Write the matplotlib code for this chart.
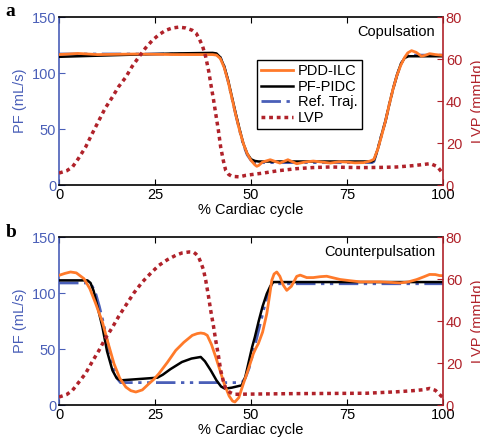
import matplotlib.pyplot as plt
import numpy as np

plt.rcParams['font.family'] = ['Liberation Sans', 'DejaVu Sans']
plt.rcParams['font.size'] = 10

BLUE = '#4a5fb8'
RED = '#b0222a'
ORANGE = '#ff7a2a'

# ---- panel a : copulsation ----
a_ref_x = [0, 41, 42, 43, 44, 45, 46, 47, 48, 49, 50, 51, 81.5, 82, 83, 84, 85, 86, 87, 88, 89, 90, 91, 100]
a_ref_y = [117, 117, 114, 106, 93, 78, 63, 49, 36, 27, 22, 20, 20, 21, 32, 45, 57, 72, 86, 98, 108, 114, 116, 116]

a_pid_x = [0, 10, 20, 30, 40, 41, 42, 43, 44, 45, 46, 47, 48, 49, 50, 51, 52, 81.5, 82, 83, 84, 85, 86, 87, 88, 89, 90, 91, 92, 100]
a_pid_y = [114.5, 115.5, 116.5, 117.5, 118, 117.5, 114, 106, 94, 79, 64, 50, 37, 28, 23, 21.5, 21, 21, 22, 32, 45, 57, 72, 86, 98, 108, 113.5, 115, 115, 115]

a_ilc_x = [0, 5, 10, 20, 30, 40, 41, 42, 43, 44, 45, 46, 47, 48, 49, 50, 51, 51.5, 52, 53, 55, 57.5, 59.6, 61.9, 64, 66.2, 68.5, 70.6, 73, 75, 77,
           79.3, 81, 82, 83, 84, 85, 86, 87, 88, 89, 90, 90.8, 91.8, 93, 94.4, 95.5, 96.5, 98, 100]
a_ilc_y = [116.5, 117.5, 116.5, 117, 116.5, 116.5, 116, 113, 105, 93, 78, 63, 49, 37, 28, 22, 18, 16.7, 17.5, 20.5, 22.6, 19.6, 22.6, 19, 20.5, 21.4, 20.5, 19.6,
           20.8, 20.5, 19.8, 20, 21.4, 23, 32, 44, 57, 72, 86, 98, 107, 114, 118, 120, 118.5, 115, 116, 117.3, 116.5, 115.8]

a_lvp_x = [0, 2, 3.5, 5, 6.9, 8.5, 10.4, 12, 13.9, 15.5, 17.4, 19, 20.8, 22.5, 24.3, 26, 27.8, 29.5, 31.2, 33, 34.7, 35.7, 36.5, 37.4, 38.2,
           39, 39.5, 40.2, 40.8, 41.5, 42.1, 42.8, 43.4, 44.2, 45.1, 47, 48.6, 53.2, 57, 61.9, 66, 70.6, 75, 79.3, 84, 88, 92, 95, 96.7, 98.5, 100]
a_lvp_y = [5.7, 6.8, 8.6, 12.5, 18, 24, 30.8, 36.5, 41.9, 46.8, 51.4, 56.4, 61, 65.2, 68.9, 71.6, 73.7, 74.8, 75.2, 74.8, 73.7, 72.3, 69.7, 66, 61,
           54, 48.3, 41, 34, 26, 18, 11.5, 7, 5, 4.1, 3.9, 4.6, 5.7, 6.8, 7.8, 8.3, 8.6, 8.4, 8.3, 8.4, 8.6, 9.2, 9.8, 10.2, 8.8, 5.4]

# ---- panel b : counterpulsation ----
b_ref_x = [0, 7.8, 8.5, 9.5, 10.5, 11.5, 12.5, 13.5, 14.5, 15.3, 16, 47.6, 48.5, 49.5, 50.5, 51.5, 52.5, 53.5, 54.5, 55.4, 100]
b_ref_y = [109, 109, 107, 100, 88, 74, 58, 43, 31, 23, 20, 20, 24, 33, 46, 60, 74, 88, 100, 108.3, 108.3]

b_pid_x = [0, 7.4, 8.2, 9, 10, 11.3, 12.5, 13.9, 15, 16, 25.6, 27, 29, 32, 34.5, 36.9, 38, 39.5, 41, 42.2, 43.2, 45, 47.6, 48.5, 49.5,
           50.3, 51, 52, 53, 54.1, 55, 55.8, 100]
b_pid_y = [111.3, 111.3, 109, 102, 88, 69.6, 48, 31, 24, 22, 24.4, 27, 32, 38.4, 41.5, 42.9, 39, 31, 22, 16.5, 14.6, 15.5, 17.6, 25, 40,
           52, 60.7, 75, 88, 99.4, 106, 109.8, 109.8]

b_ilc_x = [0, 1.5, 3, 4.5, 6.5, 8, 9.5, 11.3, 12.8, 14.3, 15.8, 17.4, 18.7, 20, 21.7, 23.4, 24.7, 26, 28.2, 30.4, 32.5, 34.7, 36, 36.9, 37.8,
           38.6, 39.7, 40.8, 42, 43, 44.3, 45.2, 45.8, 46.8, 48, 49.3, 50.6, 51.3, 51.9, 53, 54.1, 54.8, 55.4, 56, 56.7, 57.5, 58.4, 59.3,
           60.5, 61.9, 62.8, 64.5, 66.2, 68, 69.7, 71.5, 73.2, 75.8, 78.4, 81, 83.6, 86, 88.8, 91, 93.1, 95, 96.5, 98, 99.1, 100]
b_ilc_y = [115.8, 117.5, 118.8, 118, 112.8, 104, 91, 74, 55, 37, 24, 16, 12.8, 11.6, 13.5, 19, 23, 28, 38, 48.8, 56, 62.2, 63.8, 64.3, 63.8,
           62.2, 54, 42.9, 30, 19, 8, 3.5, 2.7, 6.5, 19, 32, 45.8, 51, 54.8, 65, 81.5, 97, 111.3, 117, 118.8, 115, 107, 102.4,
           106, 114.9, 116, 113.8, 113.8, 114.6, 115, 113.5, 112.1, 111, 110, 110, 110, 109.6, 109, 110, 112, 114.5, 116.6, 116.5, 115.6, 115.5]

b_lvp_x = [0, 2, 3.5, 5, 6.9, 8.6, 10.4, 12, 13.9, 15.6, 17.4, 19.5, 21.7, 24, 26, 28.2, 30.4, 32, 33.9, 35, 35.6, 36.3, 36.9, 37.6, 38.2,
           38.9, 39.5, 40.2, 40.8, 41.5, 42.1, 42.8, 43.4, 44.5, 45.6, 50, 60, 70, 80, 88, 92, 95, 96.5, 98, 99.5, 100]
b_lvp_y = [3.8, 5, 7, 10.5, 15, 20.5, 26, 31.5, 37, 42.4, 47.5, 53.4, 58.6, 63, 66.5, 69.2, 71.3, 72.4, 72.9, 72.8, 72, 70.6, 68, 64.5, 59.4,
           52, 45, 37.8, 30.8, 23.6, 16.5, 11.3, 7.8, 6, 5.1, 5.2, 5.4, 5.5, 5.6, 6.3, 6.8, 7.3, 7.9, 7, 4.3, 3.5]

panels = [
    ('a', 'Copulsation', a_ilc_x, a_ilc_y, a_pid_x, a_pid_y, a_ref_x, a_ref_y, a_lvp_x, a_lvp_y, 0.5814, 0.993),
    ('b', 'Counterpulsation', b_ilc_x, b_ilc_y, b_pid_x, b_pid_y, b_ref_x, b_ref_y, b_lvp_x, b_lvp_y, 0.0837, 0.493),
]

fig = plt.figure(figsize=(4.8, 4.42), dpi=100)

for i, (lab, name, ix, iy, px, py, rx, ry, lx, ly, bot, laby) in enumerate(panels):
    ax = fig.add_axes([0.123, bot, 0.8, 0.380])
    ax2 = ax.twinx()

    h_ref, = ax.plot(rx, ry, color=BLUE, lw=2.0, dashes=(7, 2, 1.2, 2, 1.2, 2), label='Ref. Traj.', zorder=2)
    h_pid, = ax.plot(px, py, color='black', lw=1.8, label='PF-PIDC', zorder=3)
    h_ilc, = ax.plot(ix, iy, color=ORANGE, lw=2.0, label='PDD-ILC', zorder=4)
    h_lvp, = ax2.plot(lx, ly, color=RED, lw=2.5, dashes=(1.1, 1.1), label='LVP')

    ax.set_xlim(0, 100)
    ax.set_ylim(0, 150)
    ax2.set_ylim(0, 80)
    ax.set_xticks([0, 25, 50, 75, 100])
    ax.set_yticks([0, 50, 100, 150])
    ax2.set_yticks([0, 20, 40, 60, 80])

    ax.tick_params(axis='x', direction='in', top=True, length=4, pad=2, colors='black', labelsize=10.5)
    ax.tick_params(axis='y', direction='in', length=4, pad=2, colors=BLUE, labelsize=10.5)
    ax2.tick_params(axis='y', direction='in', length=4, pad=2, colors=RED, labelsize=10.5)

    for s in ['top', 'bottom']:
        ax.spines[s].set_color('black')
        ax2.spines[s].set_visible(False)
    ax.spines['left'].set_color(BLUE)
    ax2.spines['left'].set_visible(False)
    ax.spines['right'].set_visible(False)
    ax2.spines['right'].set_color(RED)
    for s in ax.spines.values():
        s.set_linewidth(1.2)
    ax2.spines['right'].set_linewidth(1.2)

    ax.set_xlabel('% Cardiac cycle', labelpad=1, fontsize=10.5)
    ax.set_ylabel('PF (mL/s)', color=BLUE, labelpad=3, fontsize=10.5)
    ax2.set_ylabel('LVP (mmHg)', color=RED, labelpad=6, fontsize=10.5)

    ax2.text(0.98, 0.95, name, transform=ax2.transAxes, ha='right', va='top', fontsize=10.5)
    fig.text(0.012, laby, lab, fontsize=14, fontweight='bold',
             family='Liberation Serif', ha='left', va='top')

    if i == 0:
        leg = ax2.legend([h_ilc, h_pid, h_ref, h_lvp], ['PDD-ILC', 'PF-PIDC', 'Ref. Traj.', 'LVP'],
                         loc='upper left', bbox_to_anchor=(0.515, 0.745), fancybox=False,
                         edgecolor='black', framealpha=1, fontsize=10.5, handlelength=2.2,
                         handletextpad=0.3, borderpad=0.3, labelspacing=0.1, borderaxespad=0)
        leg.get_frame().set_linewidth(1.0)

fig.savefig('out.png', dpi=100)
